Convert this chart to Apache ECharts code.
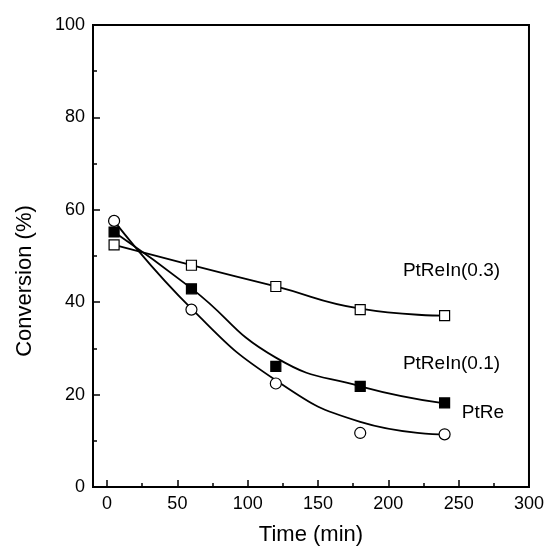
<!DOCTYPE html>
<html>
<head>
<meta charset="utf-8">
<script src="https://cdn.jsdelivr.net/npm/echarts@6/dist/echarts.min.js"></script>
<style>
html,body{margin:0;padding:0;background:#fff;}
#chart{width:547px;height:551px;}
</style>
</head>
<body>
<div id="chart"></div>
<script>
// Measured points
const timeX = [5, 60, 120, 180, 240];
const ptReIn03 = [52.4, 48.0, 43.4, 38.4, 37.1];
const ptReIn01 = [55.2, 42.9, 26.1, 21.8, 18.2];
const ptRe = [57.6, 38.4, 22.4, 11.7, 11.4];

// Fitted curves
const fitX = [5, 60, 120, 180, 240];
const fitPtReIn03 = [52.4, 48.0, 43.4, 38.6, 37.1];
const fitPtReIn01 = [55.2, 43.0, 28.0, 21.8, 18.1];
const fitPtRe = [57.6, 38.6, 23.1, 14.1, 11.4];

// Ticks
const xTicks = [0, 50, 100, 150, 200, 250, 300];
const xMinorTicks = [25, 75, 125, 175, 225, 275];

// Series labels and their anchor points (data space)
const seriesNames = ['PtReIn(0.3)', 'PtReIn(0.1)', 'PtRe'];
const labelX = [244.9, 244.9, 267.2];
const labelY = [46.9, 26.7, 16.1];

const FONT = "'Liberation Sans', Arial, sans-serif";
const pair = (xs, ys) => xs.map((x, i) => [x, ys[i]]);

const chart = echarts.init(document.getElementById('chart'), null, {renderer: 'canvas'});

const lineStyle = {color: '#000', width: 1.8};
function fitSeries(name, ys) {
  return {
    type: 'line', name: name + ' fit', data: pair(fitX, ys), smooth: 0.5,
    showSymbol: false, symbol: 'none', lineStyle: lineStyle, z: 2, silent: true
  };
}
function pointSeries(name, ys, symbol, size, fill) {
  return {
    type: 'scatter', name: name, data: pair(timeX, ys), symbol: symbol, symbolSize: size,
    itemStyle: {color: fill, borderColor: '#000', borderWidth: 1.2, opacity: 1}, z: 5
  };
}

chart.setOption({
  animation: false,
  backgroundColor: '#fff',
  grid: {left: 93, right: 18, top: 25, bottom: 59, show: true, borderColor: '#000', borderWidth: 2, backgroundColor: 'transparent'},
  xAxis: [{
    type: 'value', min: -10, max: 300,
    name: 'Time (min)', nameLocation: 'middle', nameGap: 37,
    nameTextStyle: {fontFamily: FONT, fontSize: 22, color: '#000', verticalAlign: 'top'},
    axisLine: {show: true, onZero: false, lineStyle: {color: '#000', width: 2}},
    axisTick: {show: true, inside: true, length: 7, customValues: xTicks, lineStyle: {color: '#000', width: 1.5}},
    axisLabel: {customValues: xTicks, margin: 8, fontFamily: FONT, fontSize: 18, color: '#000'},
    splitLine: {show: false}
  }, {
    type: 'value', min: -10, max: 300, position: 'bottom',
    axisLine: {show: false},
    axisTick: {show: true, inside: true, length: 4, customValues: xMinorTicks, lineStyle: {color: '#000', width: 1.5}},
    axisLabel: {show: false},
    splitLine: {show: false}
  }],
  yAxis: {
    type: 'value', min: 0, max: 100, interval: 20,
    axisLine: {show: true, onZero: false, lineStyle: {color: '#000', width: 2}},
    axisTick: {show: true, inside: true, length: 7, lineStyle: {color: '#000', width: 1.5}},
    minorTick: {show: true, splitNumber: 2, length: 4, lineStyle: {color: '#000', width: 1.5}},
    axisLabel: {margin: 8, fontFamily: FONT, fontSize: 18, color: '#000'},
    splitLine: {show: false}, minorSplitLine: {show: false}
  },
  series: [
    fitSeries(seriesNames[0], fitPtReIn03),
    fitSeries(seriesNames[1], fitPtReIn01),
    fitSeries(seriesNames[2], fitPtRe),
    pointSeries(seriesNames[0], ptReIn03, 'rect', 10, '#fff'),
    pointSeries(seriesNames[1], ptReIn01, 'rect', 10, '#000'),
    pointSeries(seriesNames[2], ptRe, 'circle', 11, '#fff')
  ]
});

const graphics = seriesNames.map((n, i) => {
  const p = chart.convertToPixel({gridIndex: 0}, [labelX[i], labelY[i]]);
  return {
    type: 'text', x: p[0], y: p[1], z: 10,
    style: {text: n, font: '19px ' + FONT, fill: '#000', align: 'center', verticalAlign: 'middle'}
  };
});
graphics.push({
  type: 'text', x: 25, y: 281, rotation: Math.PI / 2, z: 10,
  style: {text: 'Conversion (%)', font: '22px ' + FONT, fill: '#000', align: 'center', verticalAlign: 'middle'}
});
chart.setOption({graphic: graphics});
</script>
</body>
</html>
